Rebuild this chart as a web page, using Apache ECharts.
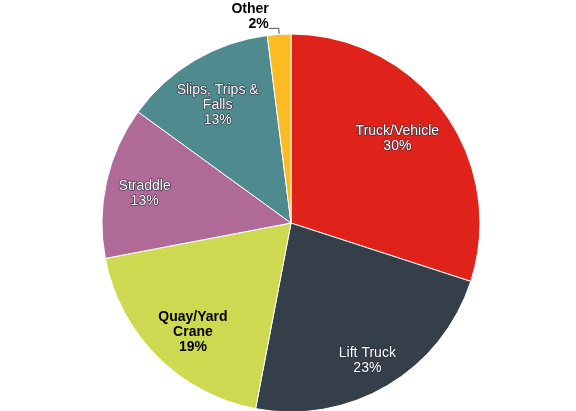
<!DOCTYPE html>
<html>
<head>
    <meta charset="utf-8">
    <title>Incidents by cause</title>
    <script src="https://cdn.jsdelivr.net/npm/echarts@6/dist/echarts.min.js"></script>
    <style type="text/css">
        html, body { margin: 0; padding: 0; background: #fff; }
        #pie { width: 576px; height: 411px; }
    </style>
</head>
<body>
    <div id="pie"></div>
    <script type="text/javascript">
        var causes = ['Truck/Vehicle', 'Lift Truck', 'Quay/Yard Crane', 'Straddle', 'Slips, Trips & Falls', 'Other'];
        var labelNames = ['Truck/Vehicle', 'Lift Truck', 'Quay/Yard\nCrane', 'Straddle', 'Slips, Trips &\nFalls', 'Other'];
        var shares = [30, 23, 19, 13, 13, 2];
        var colors = ['#e0231a', '#343f4a', '#cdd951', '#b06a98', '#4f8a8f', '#fbbb22'];
        // small nudges so labels sit where the original placed them
        var labelShift = [[-15, 4], [0, 9], [8, 3], [0, 3], [3, 11], [5, -12]];

        var pieData = [];
        var labelData = [];
        for (var i = 0; i < causes.length; i++) {
            pieData.push({
                name: causes[i],
                value: shares[i],
                itemStyle: { color: colors[i] }
            });
            var dark = (i == 2 || i == 5);
            var lbl = {
                show: true,
                position: 'inside',
                color: dark ? '#000' : '#fff',
                fontWeight: dark ? 'bold' : 'normal',
                textBorderColor: dark ? 'transparent' : '#2a2a3a',
                textBorderWidth: dark ? 0 : 1.2
            };
            if (i == 5) {
                lbl.position = 'outside';
            }
            labelData.push({
                name: causes[i],
                value: shares[i],
                label: lbl,
                labelLine: { show: i == 5 }
            });
        }

        var chart = echarts.init(document.getElementById('pie'));
        chart.setOption({
            animation: false,
            series: [
                {
                    type: 'pie',
                    center: [291, 223],
                    radius: [0, 189],
                    startAngle: 90,
                    clockwise: true,
                    silent: true,
                    itemStyle: { borderColor: '#fff', borderWidth: 1 },
                    label: { show: false },
                    labelLine: { show: false },
                    data: pieData
                },
                {
                    // transparent ring only used to place labels further out
                    type: 'pie',
                    center: [291, 223],
                    radius: [105, 189],
                    startAngle: 90,
                    clockwise: true,
                    silent: true,
                    percentPrecision: 0,
                    itemStyle: { color: 'transparent', borderWidth: 0 },
                    label: {
                        fontFamily: 'Liberation Sans, Arial, sans-serif',
                        fontSize: 14,
                        lineHeight: 15,
                        align: 'center',
                        formatter: function (p) {
                            return labelNames[p.dataIndex] + '\n' + p.percent + '%';
                        }
                    },
                    labelLine: {
                        length: 6,
                        length2: 10,
                        lineStyle: { color: '#555', width: 1 }
                    },
                    labelLayout: function (params) {
                        var s = labelShift[params.dataIndex];
                        return { dx: s[0], dy: s[1] };
                    },
                    data: labelData
                }
            ]
        });
    </script>
</body>
</html>
